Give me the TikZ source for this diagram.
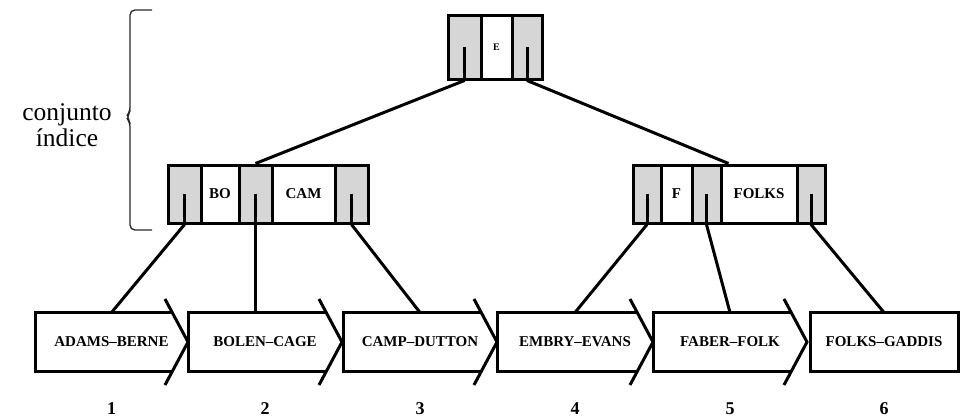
\documentclass[tikz,border=0pt]{standalone}
\usepackage{fontspec}
\setmainfont{Liberation Serif}
\usepackage{tikz}
\usetikzlibrary{calc,positioning}
\definecolor{cellGray}{HTML}{D6D6D6}

\begin{document}
\begin{tikzpicture}[
  x=1pt, y=1pt,
  every node/.style={inner sep=0pt},
  pcell/.style={draw, line width=3pt, fill=cellGray, minimum height=58pt},
  kcell/.style={draw, line width=3pt, fill=white, minimum height=58pt,
    font=\fontsize{15}{17}\selectfont\bfseries},
  leaf/.style={minimum height=59pt, outer sep=0pt,
    font=\fontsize{15}{17}\selectfont\bfseries},
  num/.style={font=\fontsize{18}{20}\selectfont\bfseries},
  box/.style={line width=3pt},
  link/.style={line width=3pt},
  bracket/.style={line width=1.3pt, black!85, rounded corners=5pt},
]
\useasboundingbox (0,0) rectangle (964,-418);

% === Root of the index ===
\node[pcell, minimum width=33pt, minimum height=64pt] (tp1) at (464.5,-47) {};
\node[kcell, minimum width=31pt, minimum height=64pt,
  font=\fontsize{10}{11}\selectfont\bfseries] (tk1) at (496.5,-47) {E};
\node[pcell, minimum width=30pt, minimum height=64pt] (tp2) at (527,-47) {};

% === Left index node ===
\node[pcell, minimum width=33pt] (ap1) at (184.5,-194) {};
\node[kcell, minimum width=38pt] (ak1) at (220,-194) {BO};
\node[pcell, minimum width=33pt] (ap2) at (255.5,-194) {};
\node[kcell, minimum width=63pt] (ak2) at (303.5,-194) {CAM};
\node[pcell, minimum width=33pt] (ap3) at (351.5,-194) {};

% === Right index node ===
\node[pcell, minimum width=28pt] (bp1) at (647,-194) {};
\node[kcell, minimum width=31pt] (bk1) at (676.5,-194) {F};
\node[pcell, minimum width=29pt] (bp2) at (706.5,-194) {};
\node[kcell, minimum width=76pt] (bk2) at (759,-194) {FOLKS};
\node[pcell, minimum width=28pt] (bp3) at (811,-194) {};

% === Pointer sticks ===
\foreach \c in {tp1,tp2,ap1,ap2,ap3,bp1,bp2,bp3}
  \draw[link] (\c.center) -- (\c.south);

% === Sequence set blocks ===
\node[leaf, minimum width=153pt] (l1) at (111.5,-342) {ADAMS--BERNE};
\node[leaf, minimum width=154pt] (l2) at (265,-342) {BOLEN--CAGE};
\node[leaf, minimum width=154pt] (l3) at (420,-342) {CAMP--DUTTON};
\node[leaf, minimum width=156pt] (l4) at (575,-342) {EMBRY--EVANS};
\node[leaf, minimum width=154pt] (l5) at (730,-342) {FABER--FOLK};
\node[leaf, draw, box, minimum width=148pt] (l6) at (884,-342) {FOLKS--GADDIS};

\foreach \l in {l1,l2,l3,l4,l5} {
  \draw[box] ($(\l.north east)+(-16,0)$) -| (\l.south west)
    -- ($(\l.south east)+(-16,0)$);
  \draw[box] ($(\l.east)+(-23,43)$) -- (\l.east) -- ($(\l.east)+(-23,-43)$);
}

% === Block numbers ===
\node[num, below=31pt of l1] (n1) {1};
\node[num, below=31pt of l2] (n2) {2};
\node[num, below=31pt of l3] (n3) {3};
\node[num, below=31pt of l4] (n4) {4};
\node[num, below=31pt of l5] (n5) {5};
\node[num, below=31pt of l6] (n6) {6};

% === Links ===
\draw[link] (tp1.south) -- (ap2.north);
\draw[link] (tp2.south) -- ($(bk2.north west)+(9,0)$);
\draw[link] (ap1.south) -- (l1.north);
\draw[link] (ap2.south) -- (ap2.south |- l2.north);
\draw[link] (ap3.south) -- (l3.north);
\draw[link] (bp1.south) -- (l4.north);
\draw[link] (bp2.south) -- (l5.north);
\draw[link] (bp3.south) -- (l6.north);

% === Index set brace ===
\draw[bracket] (152,-10) -- (130,-10) -- (130,-112) -- (126,-117)
  -- (130,-122) -- (130,-230) -- (152,-230);
\node[font=\fontsize{25.5}{26}\selectfont, align=center] (idx) at (67,-125)
  {conjunto\\índice};

\end{tikzpicture}
\end{document}
